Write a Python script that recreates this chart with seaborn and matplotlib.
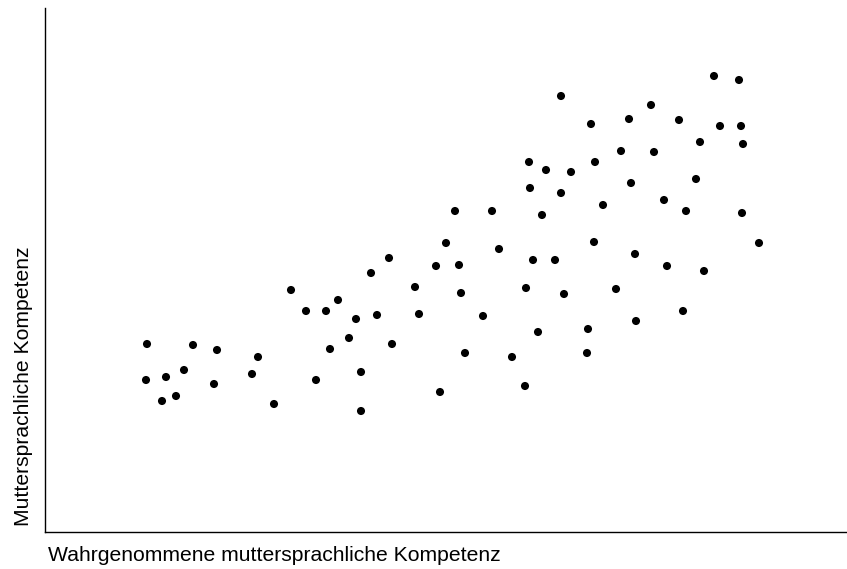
import numpy as np
import pandas as pd
import matplotlib.pyplot as plt
import seaborn as sns

# values (arbitrary units, no ticks shown)
wahrgenommen = [147, 146, 166, 162, 176, 184, 193, 217, 214, 252, 258, 274, 291, 306, 316, 326, 330, 338,
                349, 356, 361, 361, 371, 377, 389, 392, 415, 419, 436, 440, 446, 455, 459, 461, 465, 483,
                492, 499, 512, 525, 526, 529, 530, 533, 538, 542, 546, 555, 561, 561, 564, 571, 587, 588,
                591, 594, 595, 603, 616, 621, 629, 631, 635, 636, 651, 654, 664, 667, 679, 683, 686, 696,
                700, 704, 714, 720, 739, 741, 742, 743, 759]
kompetenz = [225, 189, 192, 168, 173, 199, 224, 219, 185, 195, 212, 165, 279, 258, 189, 258, 220, 269,
             231, 250, 197, 158, 296, 254, 311, 225, 282, 255, 303, 177, 326, 358, 304, 276, 216, 253,
             358, 320, 212, 183, 281, 407, 381, 309, 237, 354, 399, 309, 376, 473, 275, 397, 216, 240,
             445, 327, 407, 364, 280, 418, 450, 386, 315, 248, 464, 417, 369, 303, 449, 258, 358, 390,
             427, 298, 493, 443, 489, 443, 356, 425, 326]

df = pd.DataFrame({'x': wahrgenommen, 'y': kompetenz})

sns.set_style('white')
plt.rcParams['font.family'] = ['Liberation Sans', 'DejaVu Sans']

fig = plt.figure(figsize=(8.47, 5.69), dpi=100)
ax = fig.add_axes([45/847, 37/569, 802/847, 524/569])
sns.scatterplot(data=df, x='x', y='y', color='black', s=34, edgecolor='none', ax=ax)

ax.set_xlim(45, 847)
ax.set_ylim(37, 561)
ax.set_xticks([])
ax.set_yticks([])
sns.despine(ax=ax)
for sp in ['left', 'bottom']:
    ax.spines[sp].set_color('black')
    ax.spines[sp].set_linewidth(1.0)

ax.set_xlabel('Wahrgenommene muttersprachliche Kompetenz', fontsize=15.2, color='black', ha='left', va='top')
ax.xaxis.set_label_coords(0.004, -0.026)
ax.set_ylabel('Muttersprachliche Kompetenz', fontsize=15.2, color='black', ha='center', va='bottom')
ax.yaxis.set_label_coords(-0.015, 0.279)

fig.savefig('out.png', dpi=100)
